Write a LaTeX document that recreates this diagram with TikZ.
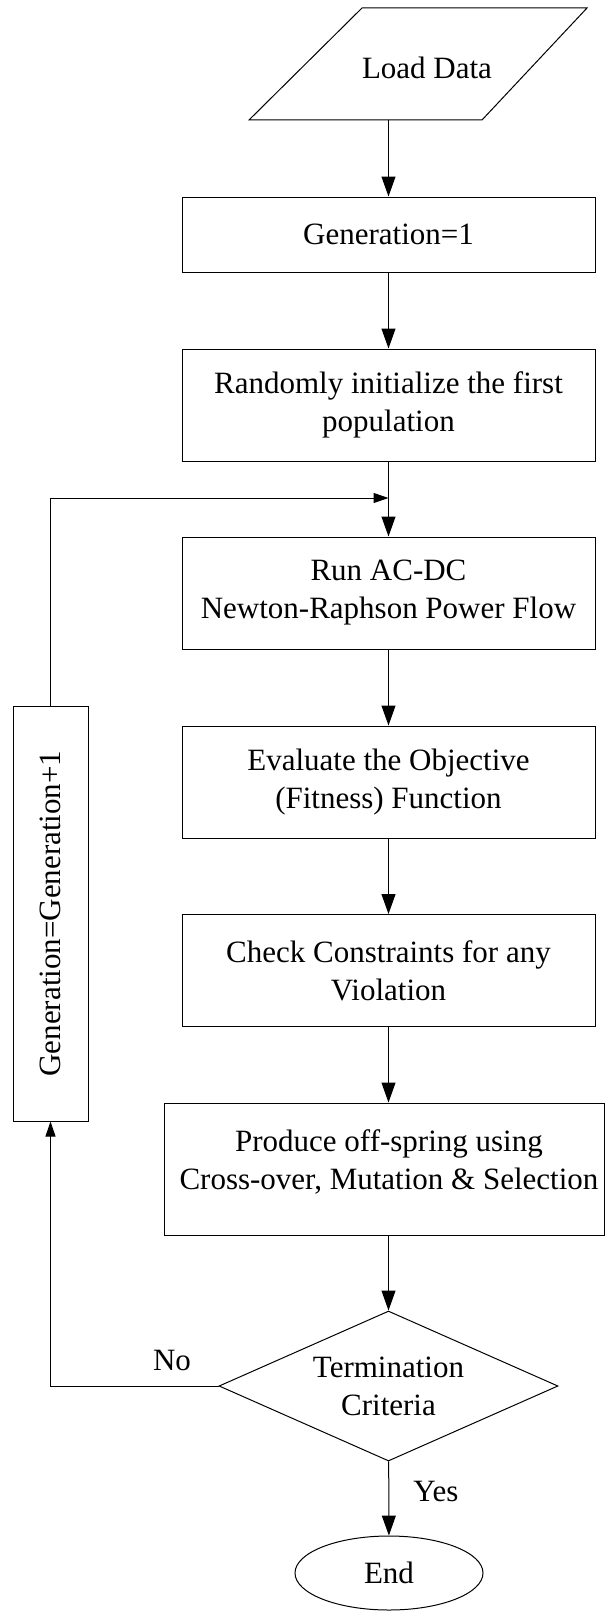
\documentclass[tikz,border=0pt]{standalone}
\usepackage{fontspec}
\setmainfont{Liberation Serif}
\usetikzlibrary{positioning, shapes.geometric, arrows.meta, calc}
\newcommand{\linecolor}{black}
\tikzset{
	blk/.style={draw=\linecolor, line width=0.5pt, rectangle, align=center, inner sep=0pt, minimum width=206.5pt, minimum height=56pt},
	arr/.style={draw=\linecolor, line width=0.5pt, -{Triangle[length=10pt,width=7pt]}},
	arrsmall/.style={draw=\linecolor, line width=0.5pt, -{Triangle[length=7.5pt,width=5pt]}},
}

\begin{document}
\begin{tikzpicture}[x=0.5pt, y=-0.5pt, font=\fontsize{15.5}{19}\selectfont]
	\useasboundingbox (0,0) rectangle (605,1611);
	% input parallelogram
	\draw [draw=\linecolor, line width=0.5pt] (249,120) -- (362,8) -- (587,8) -- (482,120) -- cycle;
	\node [] at (427,68) (load) {Load Data};
	\coordinate (loadout) at (388.5,120);
	% main column
	\node [blk, minimum height=37.5pt] at (388.5,234.5) (gen) {Generation=1};
	\node [blk] at (388.5,405) (init) {Randomly initialize the first\\population};
	\coordinate (join) at (388.5,498);
	\node [blk] at (388.5,593) (run) {Run AC-DC\\Newton-Raphson Power Flow};
	\node [blk] at (388.5,782) (eval) {Evaluate the Objective\\(Fitness) Function};
	\node [blk] at (388.5,970.5) (check) {Check Constraints for any\\Violation};
	\node [blk, minimum width=220pt, minimum height=66pt, label={[align=center, xshift=2.5pt, yshift=3.75pt]center:{Produce off-spring using\\Cross-over, Mutation \& Selection}}] at (384,1169) (prod) {};
	\node [diamond, draw=\linecolor, line width=0.5pt, aspect=2.26, inner sep=0pt, minimum width=169.5pt, minimum height=75pt, align=center] at (388.5,1386) (term) {Termination\\Criteria};
	\node [ellipse, draw=\linecolor, line width=0.5pt, inner sep=0pt, minimum width=94pt, minimum height=37pt] at (389,1573) (stop) {End};
	% feedback box
	\node [blk, rotate=90, minimum width=207.5pt, minimum height=37.5pt] at (50.5,913.5) (upd) {Generation=Generation+1};
	% labels
	\node [] at (172,1360) (no) {No};
	\node [] at (436,1491) (yes) {Yes};
	% connectors
	\draw [arr] (loadout) -- (gen.north);
	\draw [arr] (gen) -- (init);
	\draw [arr] (init) -- (run);
	\draw [arr] (run) -- (eval);
	\draw [arr] (eval) -- (check);
	\draw [arr] (check.south) -- (check.south |- prod.north);
	\draw [arr] (prod.south -| term.north) -- (term.north);
	\draw [arr] (term) -- (stop);
	\draw [arrsmall] (term.west) -| (upd.west);
	\draw [arrsmall] (upd.east) |- (join);
\end{tikzpicture}
\end{document}
